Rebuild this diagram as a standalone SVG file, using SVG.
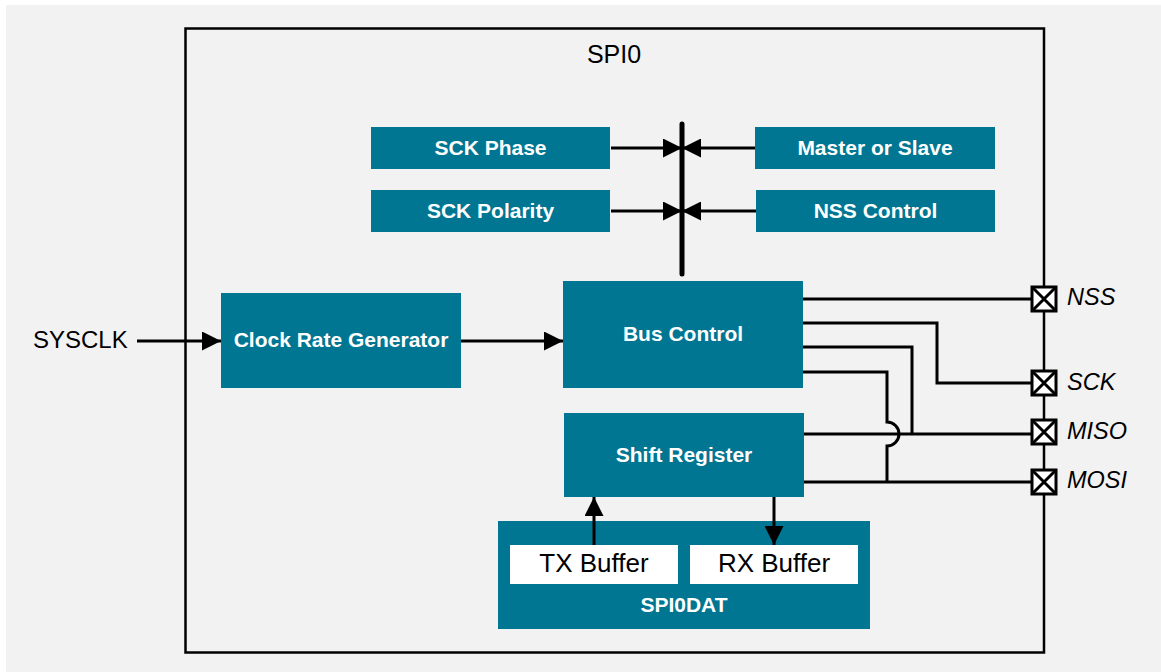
<svg xmlns="http://www.w3.org/2000/svg" width="1161" height="672" viewBox="0 0 1161 672">
<defs>
<style>
.box{fill:#007692}
.lbl{font-family:"Liberation Sans",Arial,sans-serif;font-weight:bold;font-size:21px;fill:#ffffff;text-anchor:middle}
.buf{fill:#ffffff}
.btxt{font-family:"Liberation Sans",Arial,sans-serif;font-size:26px;fill:#000000;text-anchor:middle}
.plain{font-family:"Liberation Sans",Arial,sans-serif;fill:#000000}
.pin{font-family:"Liberation Sans",Arial,sans-serif;font-style:italic;font-size:23.5px;fill:#000000}
.wire{fill:none;stroke:#000000;stroke-width:3}
.pinbox{fill:#ffffff;stroke:#000000;stroke-width:3}
</style>
<marker id="arr" markerWidth="19" markerHeight="19" viewBox="0 0 19 19" refX="19" refY="9.5" orient="auto" markerUnits="userSpaceOnUse">
<path d="M0,0 L19,9.5 L0,19 Z" fill="#000000"/>
</marker>
</defs>
<rect x="0" y="0" width="1161" height="672" fill="#ffffff"/>
<rect x="6" y="5" width="1155" height="667" fill="#f2f2f2"/>
<g id="spi0-frame">
<rect x="185.5" y="28.5" width="858.5" height="624" fill="none" stroke="#000000" stroke-width="2.5"/>
<text class="plain" x="614" y="63" font-size="25" text-anchor="middle">SPI0</text>
</g>
<g id="sck-phase"><rect class="box" x="371" y="127" width="239" height="42"/><text class="lbl" x="490.5" y="155">SCK Phase</text></g>
<g id="sck-polarity"><rect class="box" x="371" y="190" width="239" height="42"/><text class="lbl" x="490.5" y="218">SCK Polarity</text></g>
<g id="master-slave"><rect class="box" x="755" y="127" width="240" height="42"/><text class="lbl" x="875" y="155">Master or Slave</text></g>
<g id="nss-control"><rect class="box" x="756" y="190" width="239" height="42"/><text class="lbl" x="875.5" y="218">NSS Control</text></g>
<g id="sysclk"><text class="plain" x="33" y="348" font-size="24">SYSCLK</text></g>
<g id="clock-rate-generator"><rect class="box" x="221" y="293" width="240" height="95"/><text class="lbl" x="341" y="347">Clock Rate Generator</text></g>
<g id="bus-control"><rect class="box" x="563" y="281" width="240" height="107"/><text class="lbl" x="683" y="341">Bus Control</text></g>
<g id="shift-register"><rect class="box" x="564" y="413" width="240" height="84"/><text class="lbl" x="684" y="462">Shift Register</text></g>
<g id="spi0dat">
<rect class="box" x="498" y="521" width="372" height="108"/>
<text class="lbl" x="684" y="612">SPI0DAT</text>
</g>
<g id="tx-buffer"><rect class="buf" x="510" y="545" width="168" height="39"/><text class="btxt" x="594" y="572">TX Buffer</text></g>
<g id="rx-buffer"><rect class="buf" x="690" y="545" width="168" height="39"/><text class="btxt" x="774" y="572">RX Buffer</text></g>
<g id="connectors">
<line x1="682" y1="124" x2="682" y2="274" stroke="#000000" stroke-width="5" stroke-linecap="round"/>
<line class="wire" x1="611" y1="148" x2="682" y2="148" marker-end="url(#arr)"/>
<line class="wire" x1="755" y1="148" x2="682" y2="148" marker-end="url(#arr)"/>
<line class="wire" x1="611" y1="211" x2="682" y2="211" marker-end="url(#arr)"/>
<line class="wire" x1="756" y1="211" x2="682" y2="211" marker-end="url(#arr)"/>
<line class="wire" x1="137" y1="341" x2="221" y2="341" marker-end="url(#arr)"/>
<line class="wire" x1="461" y1="341" x2="563" y2="341" marker-end="url(#arr)"/>
<line class="wire" x1="594" y1="545" x2="594" y2="497" marker-end="url(#arr)"/>
<line class="wire" x1="774" y1="497" x2="774" y2="545" marker-end="url(#arr)"/>
<path class="wire" d="M803,299 H1032"/>
<path class="wire" d="M803,323 H937 V383 H1032"/>
<path class="wire" d="M803,347 H912 V434"/>
<path class="wire" d="M803,372 H887 V422 A12,12 0 0 1 887,446 V482"/>
<path class="wire" d="M804,434 H1032"/>
<path class="wire" d="M804,482 H1032"/>
</g>
<g id="pin-nss"><rect class="pinbox" x="1032" y="287" width="24" height="24"/><path class="wire" d="M1032,287 L1056,311 M1056,287 L1032,311"/><text class="pin" x="1067" y="305">NSS</text></g>
<g id="pin-sck"><rect class="pinbox" x="1032" y="371" width="24" height="24"/><path class="wire" d="M1032,371 L1056,395 M1056,371 L1032,395"/><text class="pin" x="1067" y="390">SCK</text></g>
<g id="pin-miso"><rect class="pinbox" x="1032" y="420" width="24" height="24"/><path class="wire" d="M1032,420 L1056,444 M1056,420 L1032,444"/><text class="pin" x="1067" y="439">MISO</text></g>
<g id="pin-mosi"><rect class="pinbox" x="1032" y="470" width="24" height="24"/><path class="wire" d="M1032,470 L1056,494 M1056,470 L1032,494"/><text class="pin" x="1067" y="488">MOSI</text></g>
</svg>
